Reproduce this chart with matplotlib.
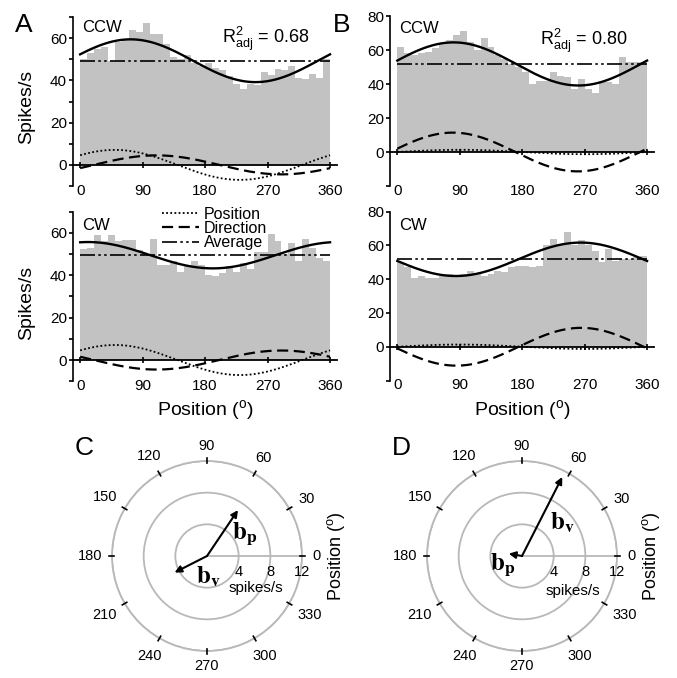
import numpy as np
import matplotlib.pyplot as plt

plt.rcParams['font.family'] = ['Liberation Sans', 'DejaVu Sans']

W, H = 677, 678

# firing rates in 10 deg position bins (spikes/s)
rate_a_ccw = [50, 53, 55, 56, 49, 58, 59, 64, 63, 67, 62, 62, 57, 51, 50, 52, 48, 47,
              48, 46, 45, 42, 38.5, 35.7, 38.5, 38, 44, 42.5, 45.5, 45, 47, 41, 40.5, 43, 41, 50]
rate_a_cw = [52.5, 53, 59, 56, 59, 56, 56.5, 56.5, 52, 50, 57, 45, 45, 47, 41.5, 44.5, 47, 45,
             40, 39.5, 41, 44.5, 41.5, 46, 43, 51, 51, 59.5, 56, 50, 55.5, 47, 57, 53, 48, 47]
rate_b_ccw = [62, 58, 57, 58, 59, 61, 64, 66, 69, 71, 65, 60, 67, 62, 57, 55, 52, 50,
              47, 40, 42, 42, 47, 45, 44, 37, 43, 37, 35, 41, 41, 40, 56, 53, 53, 53]
rate_b_cw = [50, 47, 41, 42, 41, 41, 42, 43, 42, 43, 45, 43, 42, 43, 45, 44, 47, 48,
             48, 47, 48, 60, 64, 61, 68, 60, 63, 60, 57, 50, 58, 51, 52, 52, 53, 54]

# cosine model terms: mean rate, position (amp, preferred deg), direction (amp, preferred deg)
mean_a = [49.3, 49.5]
pos_a = [7.1, 50]
dir_a_ccw = [4.5, 110]
dir_a_cw = [4.5, 290]
mean_b = [51.8, 51.8]
pos_b = [1.3, 90]
dir_b_ccw = [11.4, 80]
dir_b_cw = [11.2, 265]
r2_a = 0.68
r2_b = 0.80

# tuning vectors (spikes/s, deg)
bp_c = [7.0, 56]
bv_c = [4.6, 207]
bp_d = [1.7, 170]
bv_d = [11.2, 63]

xticks = [0, 90, 180, 270, 360]
polar_ticks = list(range(0, 360, 30))
rings = [4, 8, 12]
bins = np.arange(0, 360, 10)
theta = np.linspace(0, 360, 361)

fig = plt.figure(figsize=(W / 100, H / 100), dpi=100)


def px_rect(left, top, right, bottom):
    return [left / W, 1 - bottom / H, (right - left) / W, (bottom - top) / H]


def ftext(x, y, s, **kw):
    return fig.text(x / W, 1 - y / H, s, **kw)


def cosine(term):
    return term[0] * np.cos(np.deg2rad(theta - term[1]))


def tuning_panel(rect, rates, mean, pos, dirc, ylim, yticks, yminor):
    ax = fig.add_axes(rect)
    ax.bar(bins, rates, width=10, align='edge', color='#c2c2c2', lw=0, zorder=1)
    p = cosine(pos)
    d = cosine(dirc)
    ax.plot(theta, mean + p + d, color='k', lw=1.7, zorder=3)
    ax.plot(theta, p, color='k', lw=1.3, ls=(0, (1, 1.3)), label='Position', zorder=3)
    ax.plot(theta, d, color='k', lw=1.6, ls=(0, (5, 2.5)), label='Direction', zorder=3)
    ax.plot([0, 360], [mean, mean], color='k', lw=1.2,
            ls=(0, (9, 2, 1.5, 2, 1.5, 2)), label='Average', zorder=3)
    ax.set_xlim(-11, 370)
    ax.set_ylim(*ylim)
    for s in ['top', 'right']:
        ax.spines[s].set_visible(False)
    ax.spines['bottom'].set_position(('data', 0))
    ax.spines['bottom'].set_linewidth(1.3)
    ax.spines['bottom'].set_zorder(4)
    ax.spines['left'].set_linewidth(1.2)
    ax.set_xticks(xticks)
    ax.tick_params(axis='x', direction='inout', length=5, width=1.2, labelbottom=False)
    ax.set_yticks(yticks)
    ax.set_yticks(yminor, minor=True)
    ax.tick_params(axis='y', which='both', length=3, width=1.2, labelsize=11, pad=1)
    sec = ax.secondary_xaxis('bottom')
    sec.spines['bottom'].set_visible(False)
    sec.set_xticks(xticks)
    sec.tick_params(length=0, pad=-1.5, labelsize=11)
    return ax


ax_a1 = tuning_panel(px_rect(72.5, 17, 337, 186), rate_a_ccw, mean_a[0], pos_a, dir_a_ccw,
                     (-10, 70), [0, 20, 40, 60], [-10, 10, 30, 50, 70])
ax_a2 = tuning_panel(px_rect(72.5, 211.8, 337, 381.2), rate_a_cw, mean_a[1], pos_a, dir_a_cw,
                     (-10, 70), [0, 20, 40, 60], [-10, 10, 30, 50, 70])
ax_b1 = tuning_panel(px_rect(389.7, 16, 654, 186), rate_b_ccw, mean_b[0], pos_b, dir_b_ccw,
                     (-20, 80), [0, 20, 40, 60, 80], [-20])
ax_b2 = tuning_panel(px_rect(389.7, 211.7, 654, 380.5), rate_b_cw, mean_b[1], pos_b, dir_b_cw,
                     (-20, 80), [0, 20, 40, 60, 80], [-20])

ax_a2.legend(loc='upper left', bbox_to_anchor=(0.34, 1.03), frameon=False, fontsize=11.5,
             handlelength=2.3, handletextpad=0.3, labelspacing=-0.05, borderpad=0,
             borderaxespad=0)

ftext(82, 31.7, 'CCW', fontsize=12)
ftext(82, 230, 'CW', fontsize=12)
ftext(399, 33, 'CCW', fontsize=12)
ftext(399, 230, 'CW', fontsize=12)
ftext(222, 43, r'$\mathregular{R^2_{adj}}$ = %.2f' % r2_a, fontsize=13)
ftext(540, 45, r'$\mathregular{R^2_{adj}}$ = %.2f' % r2_b, fontsize=13)

ftext(27, 107, 'Spikes/s', fontsize=14, rotation=90, ha='center', va='center')
ftext(27, 303, 'Spikes/s', fontsize=14, rotation=90, ha='center', va='center')
ftext(205, 415, r'Position ($\mathregular{^o}$)', fontsize=14, ha='center', va='baseline')
ftext(522, 415, r'Position ($\mathregular{^o}$)', fontsize=14, ha='center', va='baseline')

ftext(15, 32, 'A', fontsize=19, va='baseline')
ftext(333, 32, 'B', fontsize=19, va='baseline')
ftext(75, 455, 'C', fontsize=19, va='baseline')
ftext(392, 455, 'D', fontsize=19, va='baseline')


def vector_panel(cx, cy, vectors, labels, spk_offset):
    rad = 95
    ax = fig.add_axes(px_rect(cx - rad, cy - rad, cx + rad, cy + rad), projection='polar')
    ax.set_ylim(0, 12)
    ax.set_yticks(rings)
    ax.set_yticklabels([])
    ax.yaxis.grid(True, color='#b8b8b8', lw=1.3)
    ax.xaxis.grid(False)
    ax.spines['polar'].set_color('#b8b8b8')
    ax.spines['polar'].set_linewidth(1.3)
    ax.set_xticks([])
    ax.plot([0, 0], [0, 12], color='#b8b8b8', lw=1.3)
    # angle ticks and labels around the outer ring
    for a in polar_ticks:
        t = np.deg2rad(a)
        ax.plot([t, t], [11.7, 12.35], color='k', lw=1.2, clip_on=False, zorder=4)
        hw = 4.05 * len(str(a))
        extra = 10 + hw * abs(np.cos(t)) + 5.2 * abs(np.sin(t))
        ax.annotate(str(a), xy=(t, 12), xytext=(extra * np.cos(t), extra * np.sin(t)),
                    textcoords='offset pixels', ha='center', va='center', fontsize=10.5,
                    annotation_clip=False)
    for vec in vectors:
        ax.annotate('', xy=(np.deg2rad(vec[1]), vec[0]), xytext=(0, 0),
                    arrowprops=dict(arrowstyle='-|>', color='k', lw=1.5,
                                    mutation_scale=10, shrinkA=0, shrinkB=0))
    for r in rings:
        ax.annotate(str(r), xy=(0, r), xytext=(0, -16), textcoords='offset pixels',
                    ha='center', va='center', fontsize=10.5)
    ax.annotate('spikes/s', xy=(0, 8), xytext=spk_offset, textcoords='offset pixels',
                ha='center', va='center', fontsize=11)
    for name, (ang, r) in labels.items():
        ax.text(np.deg2rad(ang), r, r'$\mathbf{b}_\mathbf{%s}$' % name, fontsize=18,
                math_fontfamily='stix', ha='center', va='center')
    ftext(cx + 129, cy, r'Position ($\mathregular{^o}$)', fontsize=13, rotation=90,
          ha='center', va='center')
    return ax


vector_panel(207, 556, [bp_c, bv_c], {'p': (31, 5.6), 'v': (-87, 2.7)}, (-14, -32))
vector_panel(522, 556, [bp_d, bv_d], {'v': (39.5, 6.6), 'p': (205, 2.7)}, (-12, -35))

fig.savefig('out.png', dpi=100)
